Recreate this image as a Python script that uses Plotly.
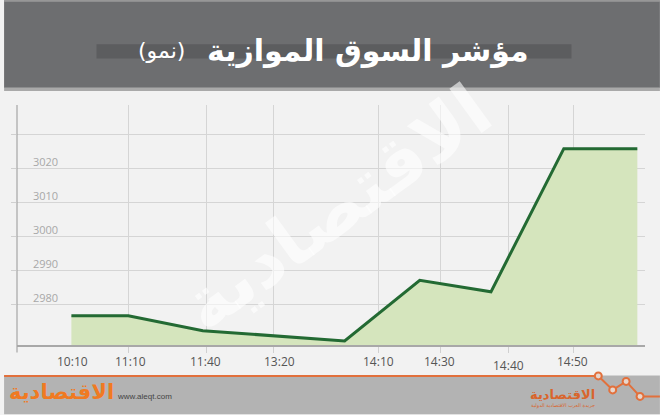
import plotly.graph_objects as go

# ---- data ----
point_x = [8.66, 17.72, 29.59, 52.17, 64.13, 75.47, 87.07, 98.78]
index_values = [2976.8, 2976.8, 2972.4, 2969.4, 2987.2, 2983.8, 3025.8, 3025.8]
time_labels = ["10:10", "11:10", "11:40", "13:20", "14:10", "14:30", "14:40", "14:50"]
time_label_x = [8.91, 18.09, 29.95, 41.82, 57.64, 67.29, 78.27, 88.5]
grid_x = [17.77, 30.11, 40.87, 57.55, 67.36, 78.2, 88.66]
y_ticks = [2980, 2990, 3000, 3010, 3020]
y_grid = [2980, 2990, 3000, 3010, 3020, 3030]
title_main = "مؤشر السوق الموازية"
title_sub = "(نمو)"

W, H = 660, 415
L, R, T, B = 13, 645, 105, 345.5


def px(x):
    return (x - L) / (R - L)


def py(y):
    return (B - y) / (B - T)


fig = go.Figure()
fig.add_trace(go.Scatter(
    x=point_x, y=index_values, mode="lines",
    line=dict(color="#236a33", width=3),
    fill="tozeroy", fillcolor="#d5e5bd",
    hoverinfo="skip", showlegend=False,
))

shapes = []
# header
shapes.append(dict(type="rect", xref="paper", yref="paper", x0=px(0), x1=px(W), y0=py(88), y1=py(0),
                   fillcolor="#6d6e70", line=dict(width=0), layer="above"))
shapes.append(dict(type="rect", xref="paper", yref="paper", x0=px(0), x1=px(W), y0=py(91), y1=py(87.5),
                   fillcolor="#a9a9a9", line=dict(width=0), layer="above"))
shapes.append(dict(type="rect", xref="paper", yref="paper", x0=px(0), x1=px(W), y0=py(1.5), y1=py(0),
                   fillcolor="#9a9a9a", line=dict(width=0), layer="above"))
shapes.append(dict(type="rect", xref="paper", yref="paper", x0=px(93), x1=px(571), y0=py(58.5), y1=py(44),
                   fillcolor="#5c5d5f", line=dict(width=0), layer="above"))
# footer
shapes.append(dict(type="rect", xref="paper", yref="paper", x0=px(0), x1=px(W), y0=py(H), y1=py(376),
                   fillcolor="#b3b3b3", line=dict(width=0), layer="above"))
shapes.append(dict(type="line", xref="paper", yref="paper", x0=px(0), x1=px(598), y0=py(376.5), y1=py(376.5),
                   line=dict(color="#e2703c", width=2), layer="above"))
zz = [(598, 376.5), (612.5, 390.5), (626, 382), (640, 397), (660, 397)]
path = "M " + " L ".join(f"{px(a)},{py(b)}" for a, b in zz)
shapes.append(dict(type="path", xref="paper", yref="paper", path=path,
                   line=dict(color="#e2703c", width=2), layer="above"))
for a, b in zz[:4]:
    shapes.append(dict(type="circle", xref="paper", yref="paper",
                       x0=px(a - 3.5), x1=px(a + 3.5), y0=py(b + 3.5), y1=py(b - 3.5),
                       fillcolor="#e8d6cc", line=dict(color="#e2703c", width=2), layer="above"))
# left axis extension
shapes.append(dict(type="line", xref="paper", yref="paper", x0=0, x1=0, y0=py(353), y1=py(105),
                   line=dict(color="#a5a5a5", width=1.2), layer="above"))

annotations = []
# watermark
annotations.append(dict(text="<b>الاقتصادية</b>", xref="paper", yref="paper", x=px(334), y=py(208),
                        xanchor="center", yanchor="middle", showarrow=False, textangle=-36,
                        font=dict(family="DejaVu Sans", size=72, color="rgba(255,255,255,0.6)")))
# title
annotations.append(dict(text="<b>" + title_main + "</b>", xref="paper", yref="paper", x=px(530), y=py(50),
                        xanchor="right", yanchor="middle", showarrow=False,
                        font=dict(family="DejaVu Sans", size=30, color="white")))
annotations.append(dict(text=title_sub, xref="paper", yref="paper", x=px(133), y=py(50),
                        xanchor="left", yanchor="middle", showarrow=False,
                        font=dict(family="DejaVu Sans", size=22, color="white")))
# y labels
for v in y_ticks:
    annotations.append(dict(text=str(v), xref="paper", yref="y", x=px(27), y=v, yshift=7,
                            xanchor="left", yanchor="middle", showarrow=False,
                            font=dict(family="Open Sans", size=11, color="#a8a8a8")))
# x labels
for t, xv in zip(time_labels, time_label_x):
    ypix = 366 if t == "14:40" else 361.7
    annotations.append(dict(text=t, xref="x", yref="paper", x=xv, y=py(ypix),
                            xanchor="center", yanchor="middle", showarrow=False,
                            font=dict(family="Open Sans", size=12, color="#555555")))
# footer logos
annotations.append(dict(text="<b>الاقتصادية</b>", xref="paper", yref="paper", x=px(113), y=py(393),
                        xanchor="right", yanchor="middle", showarrow=False,
                        font=dict(family="DejaVu Sans", size=21, color="#f07a22")))
annotations.append(dict(text="www.aleqt.com", xref="paper", yref="paper", x=px(112), y=py(397),
                        xanchor="left", yanchor="middle", showarrow=False,
                        font=dict(family="Liberation Sans", size=8, color="#444444")))
annotations.append(dict(text="<b>الاقتصادية</b>", xref="paper", yref="paper", x=px(597), y=py(395),
                        xanchor="right", yanchor="middle", showarrow=False,
                        font=dict(family="DejaVu Sans", size=13, color="#d9652c")))
annotations.append(dict(text="جريدة العرب الاقتصادية الدولية", xref="paper", yref="paper", x=px(597), y=py(406),
                        xanchor="right", yanchor="middle", showarrow=False,
                        font=dict(family="DejaVu Sans", size=5, color="#d9652c")))

fig.update_layout(
    width=W, height=H, autosize=False,
    margin=dict(l=L, r=W - R, t=T, b=H - B, pad=0),
    paper_bgcolor="#f2f2f2", plot_bgcolor="#f2f2f2",
    shapes=shapes, annotations=annotations,
    xaxis=dict(range=[0, 100], tickvals=grid_x, showticklabels=False, showgrid=True,
               gridcolor="#d5d5d5", gridwidth=1, ticks="outside", ticklen=6, tickcolor="#d0d0d0",
               showline=True, linecolor="#a8a8a8", linewidth=1.5, zeroline=False, fixedrange=True),
    yaxis=dict(range=[2968.2, 3038.6], tickvals=y_grid, showticklabels=False, showgrid=True,
               gridcolor="#d5d5d5", gridwidth=1, ticks="outside", ticklen=5, tickcolor="#d0d0d0",
               showline=False, zeroline=False, fixedrange=True),
    showlegend=False,
)

fig.write_html(
    "out.html",
    config={"displayModeBar": False, "staticPlot": True},
    post_script="document.body.style.margin='0';document.body.style.overflow='hidden';",
)
